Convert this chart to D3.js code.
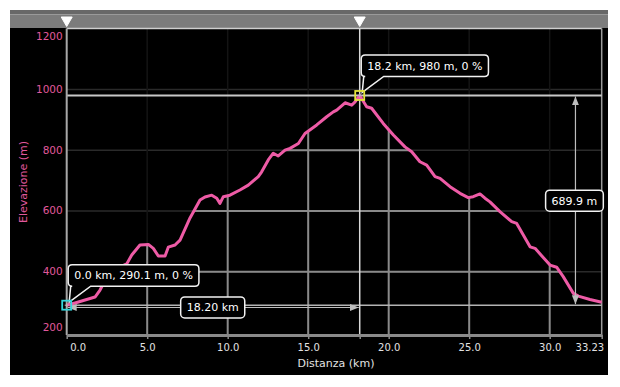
<!DOCTYPE html>
<html>
<head>
<meta charset="utf-8">
<script src="https://cdn.jsdelivr.net/npm/d3@7"></script>
<style>
  body { margin: 0; background: #fff; }
  text { font-family: "DejaVu Sans", Verdana, sans-serif; }
</style>
</head>
<body>
<script>
// profile: distance (km) / elevation (m)
var distKm = [0.0, 0.31, 1.76, 2.07, 2.69, 3.11, 3.73, 4.04, 4.55, 5.07, 5.38, 5.69, 6.11, 6.31, 6.73,
  7.04, 7.66, 8.28, 8.59, 9.01, 9.32, 9.52, 9.73, 10.14, 10.76, 11.28, 11.90, 12.11, 12.52, 12.83,
  13.14, 13.56, 13.87, 14.39, 14.80, 15.53, 16.15, 16.56, 16.77, 17.29, 17.70, 17.91, 18.2, 18.63,
  18.94, 19.66, 20.29, 21.01, 21.43, 21.94, 22.36, 22.88, 23.19, 23.81, 24.43, 24.94, 25.25, 25.67,
  25.98, 26.29, 26.91, 27.64, 27.95, 28.78, 29.09, 30.02, 30.43, 30.84, 31.47, 31.78, 32.50, 33.23];
var elevM = [290.1, 294, 317, 340, 402, 411, 426, 455, 488, 490, 477, 452, 452, 481, 488,
  504, 577, 636, 646, 652, 642, 625, 647, 652, 669, 685, 713, 729, 768, 790,
  781, 800, 806, 822, 855, 883, 910, 926, 932, 956, 948, 959, 980, 943,
  938, 888, 850, 811, 795, 762, 751, 713, 707, 680, 658, 644, 647, 656,
  642, 630, 598, 565, 559, 482, 477, 422, 415, 384, 329, 320, 309, 300];

var xTicks = [0, 5, 10, 15, 20, 25, 30, 33.23];
var yTicks = [200, 400, 600, 800, 1000, 1200];

var startKm = 0.0, startM = 290.1;
var peakKm = 18.2, peakM = 980;

var W = 620, H = 387;
var pLeft = 66.7, pRight = 601.7, pTop = 28.6, pBottom = 335;
var pink = "#ee5ba6";

var svg = d3.select("body").append("svg")
    .attr("width", W)
    .attr("height", H);

var x = d3.scaleLinear().domain([0, 33.23]).range([pLeft, pRight]);
var y = d3.scaleLinear().domain([192, 1200]).range([pBottom, pTop]);

var pts = distKm.map(function (d, i) { return [d, elevM[i]]; });

// panel + top bar
svg.append("rect").attr("x", 10).attr("y", 10).attr("width", 598).attr("height", 365).attr("fill", "#000");
svg.append("rect").attr("x", 10).attr("y", 10).attr("width", 598).attr("height", 18).attr("fill", "#7c7c7c");
svg.append("rect").attr("x", 10).attr("y", 10).attr("width", 598).attr("height", 4).attr("fill", "#686868");
svg.append("line").attr("x1", 10).attr("x2", 608).attr("y1", 14.5).attr("y2", 14.5).attr("stroke", "#9a9a9a");

// clip for area under the profile
var area = d3.area().x(function (d) { return x(d[0]); }).y0(pBottom).y1(function (d) { return y(d[1]); });
svg.append("clipPath").attr("id", "under").append("path").attr("d", area(pts));

function grid(g, hCol, vCol, sw) {
  g.selectAll(".h").data(yTicks.slice(1, 5)).enter().append("line")
      .attr("x1", pLeft).attr("x2", pRight)
      .attr("y1", function (d) { return y(d); }).attr("y2", function (d) { return y(d); })
      .attr("stroke", hCol).attr("stroke-width", sw);
  g.selectAll(".v").data(xTicks.slice(1, 7)).enter().append("line")
      .attr("x1", function (d) { return x(d); }).attr("x2", function (d) { return x(d); })
      .attr("y1", pTop).attr("y2", pBottom)
      .attr("stroke", vCol).attr("stroke-width", sw);
}
grid(svg.append("g"), "#2a2a2a", "#141414", 1.5);
grid(svg.append("g").attr("clip-path", "url(#under)"), "#8a8a8a", "#8a8a8a", 2);

// frame
svg.append("line").attr("x1", pLeft).attr("x2", pRight).attr("y1", pTop).attr("y2", pTop).attr("stroke", "#cfcfcf").attr("stroke-width", 1.5);
svg.append("line").attr("x1", pRight).attr("x2", pRight).attr("y1", pTop).attr("y2", pBottom).attr("stroke", "#9a9a9a").attr("stroke-width", 1.5);

// marker lines
svg.append("line").attr("x1", pLeft).attr("x2", pRight).attr("y1", y(peakM)).attr("y2", y(peakM)).attr("stroke", "#c8c8c8").attr("stroke-width", 2);
svg.append("line").attr("x1", pLeft).attr("x2", pRight).attr("y1", y(startM)).attr("y2", y(startM)).attr("stroke", "#b4b4b4").attr("stroke-width", 1.5);
svg.append("line").attr("x1", x(peakKm)).attr("x2", x(peakKm)).attr("y1", pTop).attr("y2", pBottom).attr("stroke", "#d8d8d8").attr("stroke-width", 1.5);
svg.append("line").attr("x1", x(startKm)).attr("x2", x(startKm)).attr("y1", pTop).attr("y2", pBottom).attr("stroke", "#a8a8a8").attr("stroke-width", 2);

// axes
var xAxis = d3.axisBottom(x).tickValues(xTicks.concat([peakKm])).tickSize(4).tickSizeOuter(0)
    .tickFormat(function (d) { return d === peakKm ? "" : (d === 33.23 ? "33.23" : d3.format(".1f")(d)); });
var gx = svg.append("g").attr("transform", "translate(0," + pBottom + ")").call(xAxis);
gx.select(".domain").attr("stroke", "#8a8a8a").attr("stroke-width", 3);
gx.selectAll(".tick line").attr("stroke", "#8a8a8a").attr("stroke-width", 1.5);
gx.selectAll(".tick text").attr("fill", "#e2e2e2").attr("font-size", 10).attr("dy", "0.9em")
    .attr("font-family", "DejaVu Sans, sans-serif");
gx.selectAll(".tick").filter(function (d) { return d === 0; }).select("text").attr("text-anchor", "start").attr("x", 3);
gx.selectAll(".tick").filter(function (d) { return d === 33.23; }).select("text").attr("text-anchor", "end").attr("x", 2);

var gy = svg.append("g").attr("transform", "translate(" + pLeft + ",0)")
    .call(d3.axisLeft(y).tickValues(yTicks).tickSize(0).tickPadding(4).tickFormat(d3.format("d")));
gy.select(".domain").remove();
gy.selectAll(".tick text").attr("fill", "#e0589c").attr("font-size", 10.5).attr("font-family", "DejaVu Sans, sans-serif");
gy.selectAll(".tick").attr("transform", function (d) {
  return "translate(0," + Math.max(36.5, Math.min(328, y(d))) + ")";
});

// titles
svg.append("text").attr("x", 336).attr("y", 367).attr("text-anchor", "middle")
    .attr("fill", "#e2e2e2").attr("font-size", 11).text("Distanza (km)");
svg.append("text").attr("transform", "translate(27,182) rotate(-90)").attr("text-anchor", "middle")
    .attr("fill", "#e0589c").attr("font-size", 11).text("Elevazione (m)");

// profile line
svg.append("path").datum(pts)
    .attr("d", d3.line().x(function (d) { return x(d[0]); }).y(function (d) { return y(d[1]); }))
    .attr("fill", "none").attr("stroke", pink).attr("stroke-width", 3).attr("stroke-linejoin", "round");

// measure arrows
var defs = svg.append("defs");
defs.append("marker").attr("id", "ah").attr("viewBox", "0 0 10 10").attr("refX", 10).attr("refY", 5)
    .attr("markerWidth", 9).attr("markerHeight", 9).attr("markerUnits", "userSpaceOnUse").attr("orient", "auto-start-reverse")
  .append("path").attr("d", "M0,1L10,5L0,9Z").attr("fill", "#bdbdbd");

var ax = x(31.6);
svg.append("line").attr("x1", ax).attr("x2", ax).attr("y1", y(peakM) + 1).attr("y2", y(startM) - 1)
    .attr("stroke", "#bdbdbd").attr("stroke-width", 1.2)
    .attr("marker-start", "url(#ah)").attr("marker-end", "url(#ah)");
var ay = y(startM) + 2.3;
svg.append("line").attr("x1", x(startKm) + 1).attr("x2", x(peakKm) - 1).attr("y1", ay).attr("y2", ay)
    .attr("stroke", "#bdbdbd").attr("stroke-width", 1.2)
    .attr("marker-start", "url(#ah)").attr("marker-end", "url(#ah)");

function box(cx, cy, txt) {
  var g = svg.append("g");
  var r = g.append("rect");
  var t = g.append("text").attr("x", cx).attr("y", cy).attr("dy", "0.36em").attr("text-anchor", "middle")
      .attr("fill", "#fff").attr("font-size", 11).text(txt);
  var w = t.node().getComputedTextLength() + 12;
  r.attr("x", cx - w / 2).attr("y", cy - 10.5).attr("width", w).attr("height", 21).attr("rx", 4)
      .attr("fill", "#000").attr("stroke", "#f2f2f2").attr("stroke-width", 1.5);
}
box((x(startKm) + x(peakKm)) / 2 - 0.5, ay, (peakKm - startKm).toFixed(2) + " km");
box(ax - 1, (y(peakM) + y(startM)) / 2 + 0.3, (peakM - startM).toFixed(1) + " m");

// tooltips with a pointer tail
function tip(px, py, txt) {
  var g = svg.append("g");
  var p = g.append("path");
  var t = g.append("text").attr("fill", "#fff").attr("font-size", 11).text(txt);
  var w = t.node().getComputedTextLength() + 12, h = 21.5, rr = 4;
  var x0 = px + 1.5, x1 = x0 + w, y1 = py - 19, y0 = y1 - h;
  var xa = px + 4, xb = px + 24, tx = px + 2.5, ty = py - 3;
  t.attr("x", x0 + 6).attr("y", (y0 + y1) / 2).attr("dy", "0.36em");
  p.attr("d", "M" + (x0 + rr) + "," + y0 + "H" + (x1 - rr) + "Q" + x1 + "," + y0 + " " + x1 + "," + (y0 + rr) +
      "V" + (y1 - rr) + "Q" + x1 + "," + y1 + " " + (x1 - rr) + "," + y1 + "H" + xb + "L" + tx + "," + ty +
      "L" + xa + "," + y1 + "H" + (x0 + rr) + "Q" + x0 + "," + y1 + " " + x0 + "," + (y1 - rr) +
      "V" + (y0 + rr) + "Q" + x0 + "," + y0 + " " + (x0 + rr) + "," + y0 + "Z")
    .attr("fill", "#000").attr("stroke", "#f2f2f2").attr("stroke-width", 1.5);
}
tip(x(startKm), y(startM), startKm.toFixed(1) + " km, " + startM + " m, 0 %");
tip(x(peakKm), y(peakM), peakKm.toFixed(1) + " km, " + peakM + " m, 0 %");

// point markers
function mark(px, py, col) {
  svg.append("rect").attr("x", px - 4.5).attr("y", py - 4.5).attr("width", 9).attr("height", 9)
      .attr("fill", "none").attr("stroke", col).attr("stroke-width", 1.8);
  svg.append("path").attr("d", "M" + (px - 2) + "," + py + "H" + (px + 2) + "M" + px + "," + (py - 2) + "V" + (py + 2))
      .attr("stroke", "#bbb").attr("stroke-width", 1);
}
mark(x(startKm), y(startM), "#34d6dc");
mark(x(peakKm), y(peakM), "#e4e43a");

// drag handles in the top bar
svg.selectAll(".handle").data([startKm, peakKm]).enter().append("path")
    .attr("d", function (d) { var c = x(d); return "M" + (c - 5.5) + ",17L" + (c + 5.5) + ",17L" + c + ",26.5Z"; })
    .attr("fill", "#fff").attr("stroke", "#fff").attr("stroke-width", 1).attr("stroke-linejoin", "round");
</script>
</body>
</html>
